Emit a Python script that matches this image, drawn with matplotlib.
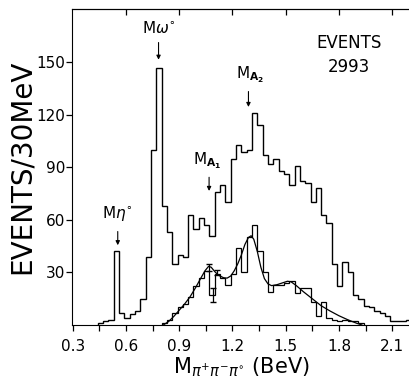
import numpy as np
import matplotlib
matplotlib.use("Agg")
import matplotlib.pyplot as plt
from matplotlib.ticker import MultipleLocator

# 3-pion mass spectrum, 30 MeV bins
bin_width = 0.03
all_start = 0.44
all_counts = [1, 2, 3, 42, 7, 4, 6, 8, 15, 39, 100, 147, 68, 53, 35, 40, 39,
              63, 55, 61, 57, 51, 76, 80, 70, 95, 103, 99, 100, 121, 114, 97,
              92, 95, 88, 86, 80, 91, 82, 81, 70, 78, 63, 58, 35, 22, 36, 30,
              17, 15, 11, 10, 8, 7, 5, 2, 2, 2, 3]

sub_start = 0.80
sub_counts = [1, 3, 7, 10, 12, 16, 22, 27, 31, 17, 29, 27, 23, 29, 44, 30, 50,
              57, 42, 30, 19, 23, 23, 24, 25, 18, 21, 21, 13, 5, 13, 4, 3, 2,
              3, 2, 2, 1]

# smooth curve through the lower spectrum
curve_x = [0.81, 0.84, 0.87, 0.90, 0.93, 0.96, 0.99, 1.02, 1.045, 1.065, 1.08,
           1.10, 1.12, 1.15, 1.17, 1.19, 1.21, 1.23, 1.25, 1.27, 1.29, 1.305,
           1.32, 1.34, 1.36, 1.38, 1.40, 1.42, 1.45, 1.48, 1.51, 1.53, 1.56,
           1.60, 1.65, 1.70, 1.75, 1.80, 1.85, 1.90, 1.93]
curve_y = [0, 2, 5, 8.5, 12, 16, 21, 26.5, 31, 33.5, 33, 30.5, 28.5, 27, 26.8,
           28, 31, 35, 40, 46, 50, 51, 49, 42, 33, 26.5, 23.5, 22.5, 23, 24,
           25, 24.7, 22.5, 19, 15, 11, 8, 5.3, 3, 1, 0]

err_x = [1.07, 1.09, 1.11]
err_y = [33, 17, 30]
err_size = [2, 4, 1.5]

xticks = [0.3, 0.6, 0.9, 1.2, 1.5, 1.8, 2.1]
yticks = [30, 60, 90, 120, 150]

fig = plt.figure(figsize=(4.10, 3.81), dpi=100)
ax = fig.add_axes([0.1756, 0.147, 0.824, 0.8286])

all_edges = all_start + bin_width * np.arange(len(all_counts) + 1)
sub_edges = sub_start + bin_width * np.arange(len(sub_counts) + 1)
ax.stairs(all_counts, all_edges, baseline=0, color="k", lw=1.0)
ax.stairs(sub_counts, sub_edges, baseline=0, color="k", lw=0.9)
ax.plot(curve_x, curve_y, color="k", lw=0.9)
ax.errorbar(err_x, err_y, yerr=err_size, fmt="none", ecolor="k",
            elinewidth=0.9, capsize=2)

ax.set_xlim(0.295, 2.2)
ax.set_ylim(0, 180.4)
ax.spines["right"].set_visible(False)

ax.set_xticks(xticks)
ax.set_xticklabels([str(t) for t in xticks])
ax.xaxis.set_minor_locator(MultipleLocator(0.15))
ax.set_yticks(yticks)
ax.tick_params(axis="both", which="major", direction="out", length=4,
               width=0.9, labelsize=11)
ax.tick_params(axis="x", which="minor", direction="out", length=4, width=0.9)
ax.tick_params(axis="x", pad=6)
ax.tick_params(axis="y", pad=1)

# inward ticks on the top edge
top = ax.secondary_xaxis("top")
top.set_xticks([0.6, 0.9, 1.2, 1.5, 1.8, 2.1])
top.tick_params(direction="in", length=4, width=0.9, labeltop=False)

ax.set_ylabel("EVENTS/30MeV", fontsize=20, labelpad=0)
ax.set_xlabel(r"M$_{\pi^{+}\pi^{-}\pi^{\circ}}$ (BeV)", fontsize=15, labelpad=1)

arrow = dict(arrowstyle="-|>", color="k", lw=0.8, mutation_scale=6)
ax.annotate("", xy=(0.553, 44), xytext=(0.553, 55), arrowprops=arrow)
ax.text(0.553, 58, r"M$\eta^{\circ}$", ha="center", va="bottom", fontsize=11)
ax.annotate("", xy=(0.783, 150), xytext=(0.783, 163), arrowprops=arrow)
ax.text(0.783, 165, r"M$\omega^{\circ}$", ha="center", va="bottom", fontsize=11)
ax.annotate("", xy=(1.068, 75), xytext=(1.068, 86), arrowprops=arrow)
ax.text(1.06, 88, r"M$_{\mathbf{A_1}}$", ha="center", va="bottom", fontsize=11)
ax.annotate("", xy=(1.29, 123), xytext=(1.29, 135), arrowprops=arrow)
ax.text(1.30, 137, r"M$_{\mathbf{A_2}}$", ha="center", va="bottom", fontsize=11)

ax.text(1.855, 161, "EVENTS", ha="center", va="center", fontsize=12)
ax.text(1.855, 147.5, "2993", ha="center", va="center", fontsize=12)

fig.savefig("out.png", dpi=100)
